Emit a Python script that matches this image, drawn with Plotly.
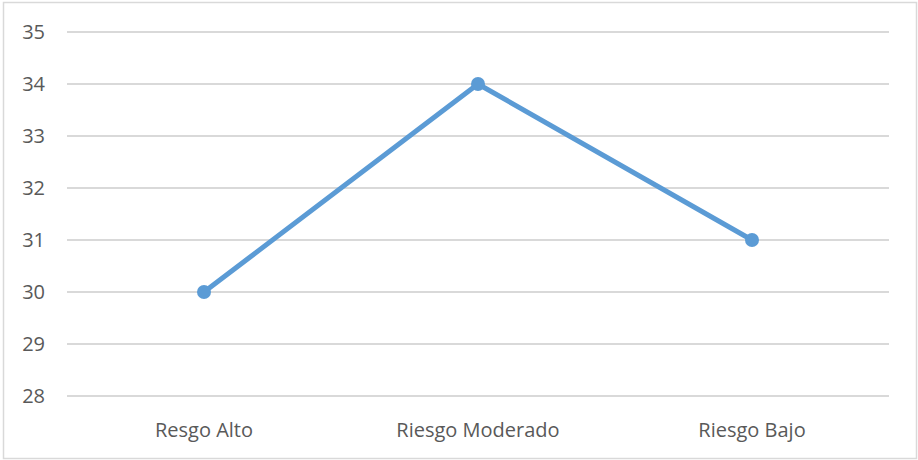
import plotly.graph_objects as go

categories = ["Resgo Alto", "Riesgo Moderado", "Riesgo Bajo"]
values = [30, 34, 31]
y_ticks = [28, 29, 30, 31, 32, 33, 34, 35]

LINE_COLOR = "#5b9bd5"
GRID_COLOR = "#d9d9d9"
TEXT_COLOR = "#595959"

W, H = 918, 460
ML, MR, MT, MB = 67, 29, 30, 62
pw, ph = W - ML - MR, H - MT - MB

# y padding (in data units) so the gridlines at 28 and 35 sit just inside the plot
Y_MIN, Y_MAX = 28, 35
pad = (ph / 52.0 - (Y_MAX - Y_MIN)) / 2

fig = go.Figure(
    go.Scatter(
        x=categories,
        y=values,
        mode="lines+markers",
        line=dict(color=LINE_COLOR, width=5),
        marker=dict(color=LINE_COLOR, size=14),
        showlegend=False,
        hoverinfo="x+y",
    )
)

def px_x(p):
    return (p - ML) / pw

def px_y(p):
    return (H - MB - p) / ph

# outer frame around the chart
fig.add_shape(
    type="rect", xref="paper", yref="paper",
    x0=px_x(3.5), x1=px_x(916.5), y0=px_y(458.5), y1=px_y(2.5),
    line=dict(color=GRID_COLOR, width=1.5), fillcolor="rgba(0,0,0,0)",
    layer="below",
)

fig.update_layout(
    width=W, height=H,
    margin=dict(l=ML, r=MR, t=MT, b=MB, pad=0),
    paper_bgcolor="white", plot_bgcolor="white",
    font=dict(family="Open Sans, Liberation Sans, sans-serif", size=20, color=TEXT_COLOR),
    xaxis=dict(
        type="category", range=[-0.5, 2.5],
        showgrid=False, zeroline=False, showline=False,
        ticks="", ticklabelstandoff=18,
        tickfont=dict(size=20, color=TEXT_COLOR),
    ),
    yaxis=dict(
        range=[Y_MIN - pad, Y_MAX + pad], tickvals=y_ticks,
        showgrid=True, gridcolor=GRID_COLOR, gridwidth=1.5,
        zeroline=False, showline=False, ticks="",
        ticklabelstandoff=21,
        tickfont=dict(size=20, color=TEXT_COLOR),
    ),
)

fig.write_html("out.html")
